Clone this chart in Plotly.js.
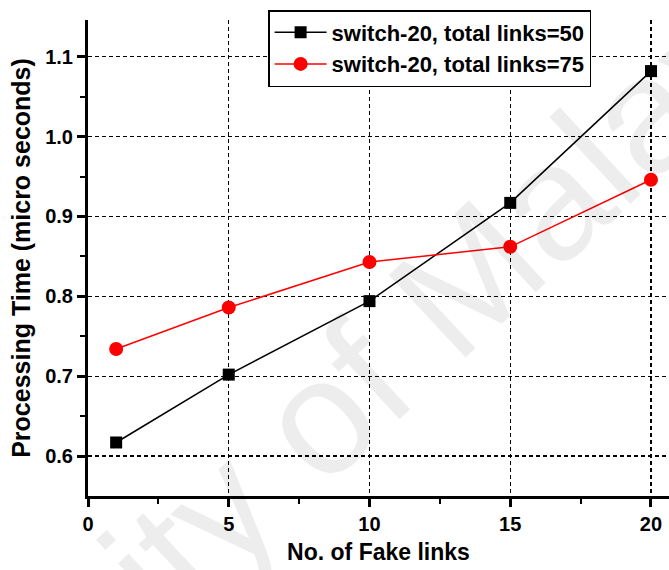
<!DOCTYPE html>
<html>
<head>
<meta charset="utf-8">
<script src="https://cdn.plot.ly/plotly-3.0.1.min.js"></script>
<style>html,body{margin:0;padding:0;background:#fff;}#chart{width:669px;height:570px;}</style>
</head>
<body>
<div id="chart"></div>
<script>
const fakeLinks = [1, 5, 10, 15, 20];
const links50 = [0.617, 0.702, 0.794, 0.917, 1.082];
const links75 = [0.734, 0.786, 0.843, 0.862, 0.946];
const seriesNames = ['switch-20, total links=50', 'switch-20, total links=75'];
const xTicks = [0, 5, 10, 15, 20];
const yTicks = [0.6, 0.7, 0.8, 0.9, 1.0, 1.1];
const yTickLabels = ['0.6', '0.7', '0.8', '0.9', '1.0', '1.1'];
const watermark = 'University of Malaya';

const font = 'Arial, "Liberation Sans", sans-serif';

const traces = [
  {x: fakeLinks, y: links50, name: seriesNames[0], mode: 'lines+markers', type: 'scatter',
   line: {color: '#000', width: 1.5}, marker: {symbol: 'square', size: 12, color: '#000'}},
  {x: fakeLinks, y: links75, name: seriesNames[1], mode: 'lines+markers', type: 'scatter',
   line: {color: '#ff0000', width: 1.5}, marker: {symbol: 'circle', size: 14, color: '#ff0000'}}
];

const layout = {
  width: 669, height: 570,
  margin: {l: 88, r: 0, t: 20, b: 74},
  paper_bgcolor: '#fff', plot_bgcolor: '#fff',
  font: {family: font, color: '#000'},
  showlegend: true,
  legend: {x: 0.31, y: 1.021, xanchor: 'left', yanchor: 'top', bgcolor: '#fff',
    bordercolor: '#000', borderwidth: 1.5,
    font: {size: 22, family: font, color: '#000', weight: 'bold'},
    itemwidth: 52, tracegroupgap: 0},
  xaxis: {
    range: [0, 20.64], tickvals: xTicks, ticktext: xTicks.map(String),
    ticks: 'outside', ticklen: 8, tickwidth: 3, tickcolor: '#000',
    showline: true, linewidth: 3, linecolor: '#000',
    showgrid: true, gridcolor: '#000', griddash: '4px,3px', gridwidth: 1.3,
    zeroline: false,
    minor: {tickvals: [2.5, 7.5, 12.5, 17.5], ticks: 'outside', ticklen: 5, tickwidth: 2, tickcolor: '#000', showgrid: false},
    tickfont: {size: 20, family: font, color: '#000', weight: 'bold'},
    title: {text: '<b>No. of Fake links</b>', font: {size: 23, family: font, color: '#000'}, standoff: 10}
  },
  yaxis: {
    range: [0.55, 1.146], tickvals: yTicks, ticktext: yTickLabels,
    ticks: 'outside', ticklen: 8, tickwidth: 3, tickcolor: '#000',
    showline: true, linewidth: 3, linecolor: '#000',
    showgrid: true, gridcolor: '#000', griddash: '4px,3px', gridwidth: 1.3,
    zeroline: false,
    minor: {tickvals: [0.65, 0.75, 0.85, 0.95, 1.05], ticks: 'outside', ticklen: 5, tickwidth: 2, tickcolor: '#000', showgrid: false},
    tickfont: {size: 20, family: font, color: '#000', weight: 'bold'},
    title: {text: '<b>Processing Time (micro seconds)</b>', font: {size: 25, family: font, color: '#000'}, standoff: 8}
  },
  annotations: [{
    text: watermark, xref: 'paper', yref: 'paper', x: 0.303, y: 0.057,
    xanchor: 'center', yanchor: 'middle',
    showarrow: false, textangle: -43, font: {size: 164, family: font, color: 'rgba(0,0,0,0.07)'}
  }]
};

Plotly.newPlot('chart', traces, layout, {displayModeBar: false, staticPlot: true});
</script>
</body>
</html>
